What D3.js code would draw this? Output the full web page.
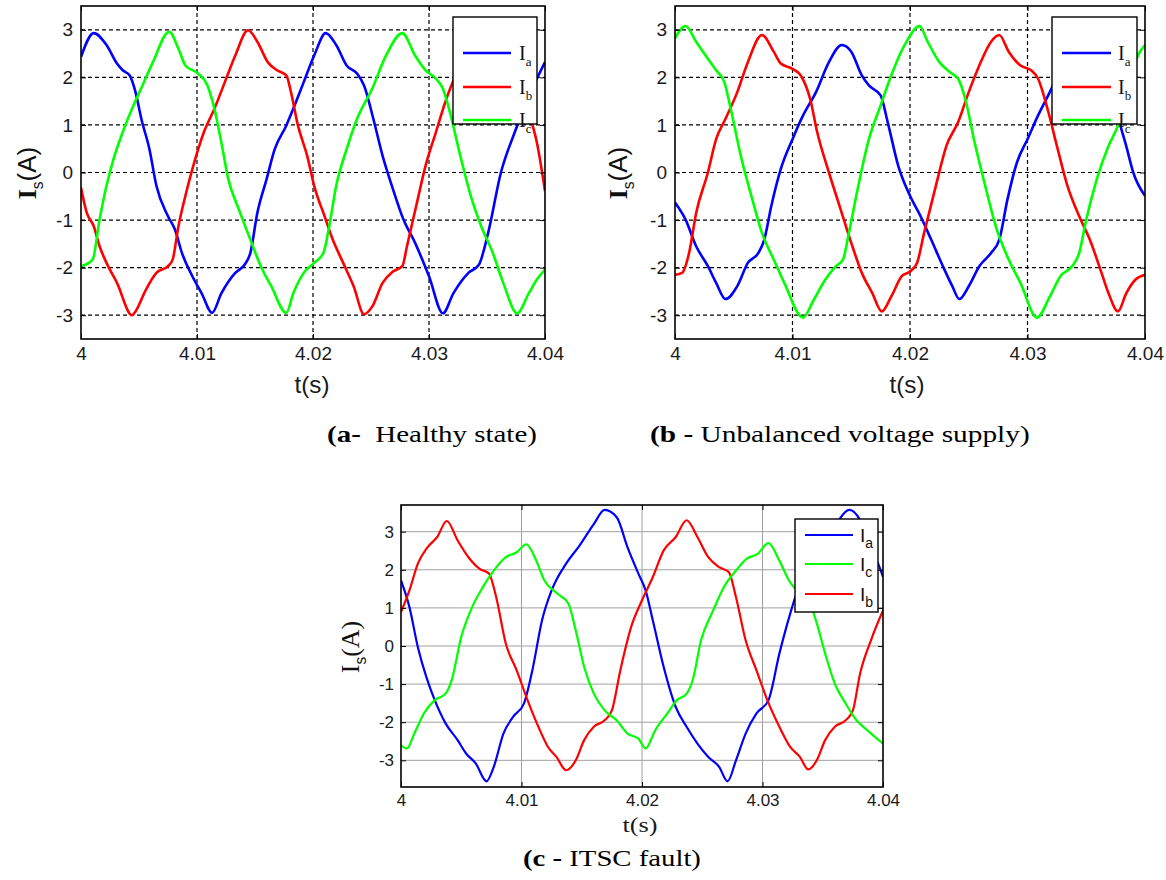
<!DOCTYPE html>
<html>
<head>
<meta charset="utf-8">
<script src="https://cdn.jsdelivr.net/npm/d3@7"></script>
<style>
  body { margin: 0; background: #fff; }
</style>
</head>
<body>
<div id="figure"></div>
<script>
// tick labels shared by the three plots
const xTicks = [4, 4.01, 4.02, 4.03, 4.04];
const yTicks = [-3, -2, -1, 0, 1, 2, 3];

// (a) healthy state, [t, I]
const healthyIa = [[4.0000,2.43],[4.0011,2.93],[4.0022,2.68],[4.0031,2.29],[4.0036,2.15],[4.0042,2.04],[4.0047,1.69],[4.0052,1.13],[4.0059,0.49],[4.0065,-0.28],[4.0075,-0.92],[4.0081,-1.2],[4.0087,-1.69],[4.0096,-2.18],[4.0104,-2.54],[4.0113,-2.95],[4.0121,-2.54],[4.0133,-2.11],[4.0141,-1.94],[4.0146,-1.69],[4.0152,-0.85],[4.0160,-0.14],[4.0167,0.49],[4.0177,0.99],[4.0183,1.34],[4.0192,1.9],[4.0201,2.46],[4.0211,2.93],[4.0220,2.68],[4.0229,2.25],[4.0238,2.08],[4.0244,1.83],[4.0252,1.13],[4.0260,0.35],[4.0268,-0.28],[4.0278,-0.99],[4.0288,-1.48],[4.0300,-2.18],[4.0312,-2.96],[4.0321,-2.54],[4.0334,-2.11],[4.0343,-1.94],[4.0351,-1.27],[4.0362,0.0],[4.0374,0.85],[4.0386,1.6],[4.0393,1.97],[4.0400,2.32]];
const healthyIb = [[4.0000,-0.32],[4.0005,-0.85],[4.0011,-1.13],[4.0016,-1.55],[4.0022,-1.9],[4.0031,-2.32],[4.0044,-3.0],[4.0047,-2.92],[4.0056,-2.46],[4.0065,-2.11],[4.0075,-1.97],[4.0079,-1.83],[4.0084,-1.13],[4.0090,-0.49],[4.0096,0.07],[4.0106,0.85],[4.0115,1.34],[4.0124,1.9],[4.0133,2.46],[4.0144,2.99],[4.0152,2.75],[4.0161,2.32],[4.0169,2.15],[4.0177,2.04],[4.0181,1.69],[4.0187,0.99],[4.0195,0.35],[4.0201,-0.28],[4.0210,-0.92],[4.0217,-1.41],[4.0226,-1.9],[4.0235,-2.39],[4.0244,-2.98],[4.0251,-2.82],[4.0260,-2.32],[4.0269,-2.08],[4.0277,-1.97],[4.0281,-1.55],[4.0289,-0.7],[4.0297,0.14],[4.0306,0.85],[4.0315,1.55],[4.0324,2.1],[4.0334,2.6],[4.0344,2.98],[4.0352,2.75],[4.0361,2.32],[4.0369,2.15],[4.0377,2.04],[4.0382,1.69],[4.0387,1.2],[4.0393,0.63],[4.0400,-0.39]];
const healthyIc = [[4.0000,-1.97],[4.0010,-1.83],[4.0016,-0.99],[4.0022,-0.28],[4.0028,0.28],[4.0036,0.85],[4.0044,1.34],[4.0053,1.83],[4.0062,2.32],[4.0076,2.96],[4.0084,2.6],[4.0090,2.25],[4.0101,2.08],[4.0109,1.83],[4.0115,1.34],[4.0121,0.63],[4.0127,-0.14],[4.0136,-0.77],[4.0146,-1.41],[4.0155,-1.97],[4.0164,-2.39],[4.0177,-2.95],[4.0183,-2.54],[4.0192,-2.11],[4.0201,-1.9],[4.0209,-1.69],[4.0214,-1.13],[4.0220,-0.28],[4.0229,0.49],[4.0238,1.13],[4.0251,1.76],[4.0263,2.46],[4.0277,2.93],[4.0288,2.46],[4.0297,2.15],[4.0306,1.97],[4.0312,1.76],[4.0318,1.27],[4.0327,0.35],[4.0336,-0.49],[4.0345,-1.13],[4.0355,-1.69],[4.0364,-2.32],[4.0376,-2.96],[4.0386,-2.54],[4.0393,-2.25],[4.0400,-2.04]];

// (b) unbalanced voltage supply
const unbalIa = [[4.0000,-0.63],[4.0009,-0.99],[4.0018,-1.55],[4.0028,-1.97],[4.0035,-2.32],[4.0043,-2.66],[4.0053,-2.39],[4.0062,-1.9],[4.0071,-1.69],[4.0076,-1.41],[4.0082,-0.7],[4.0090,0.07],[4.0100,0.7],[4.0109,1.2],[4.0120,1.69],[4.0131,2.32],[4.0142,2.68],[4.0150,2.54],[4.0159,2.04],[4.0165,1.83],[4.0175,1.62],[4.0181,1.06],[4.0190,0.14],[4.0200,-0.49],[4.0209,-0.92],[4.0218,-1.41],[4.0228,-1.97],[4.0236,-2.39],[4.0242,-2.66],[4.0250,-2.39],[4.0259,-1.97],[4.0269,-1.69],[4.0276,-1.41],[4.0283,-0.56],[4.0291,0.21],[4.0300,0.7],[4.0309,1.2],[4.0319,1.69],[4.0331,2.3],[4.0342,2.68],[4.0350,2.54],[4.0359,2.04],[4.0366,1.83],[4.0374,1.6],[4.0378,1.1],[4.0384,0.56],[4.0390,0.0],[4.0400,-0.49]];
const unbalIb = [[4.0000,-2.15],[4.0006,-2.11],[4.0012,-1.69],[4.0018,-0.85],[4.0028,0.0],[4.0035,0.7],[4.0043,1.13],[4.0053,1.69],[4.0062,2.32],[4.0074,2.89],[4.0084,2.54],[4.0090,2.29],[4.0100,2.18],[4.0107,2.04],[4.0115,1.55],[4.0121,0.85],[4.0131,0.0],[4.0140,-0.7],[4.0150,-1.48],[4.0159,-2.11],[4.0168,-2.54],[4.0176,-2.92],[4.0184,-2.61],[4.0193,-2.18],[4.0200,-2.08],[4.0206,-1.9],[4.0212,-1.27],[4.0222,-0.28],[4.0231,0.56],[4.0241,1.06],[4.0250,1.69],[4.0259,2.25],[4.0269,2.75],[4.0276,2.89],[4.0284,2.54],[4.0294,2.25],[4.0303,2.15],[4.0309,1.97],[4.0317,1.34],[4.0325,0.56],[4.0334,-0.28],[4.0344,-0.92],[4.0353,-1.41],[4.0363,-2.11],[4.0369,-2.54],[4.0377,-2.92],[4.0384,-2.54],[4.0392,-2.25],[4.0400,-2.15]];
const unbalIc = [[4.0000,2.82],[4.0009,3.08],[4.0018,2.75],[4.0028,2.39],[4.0035,2.15],[4.0042,1.9],[4.0048,1.27],[4.0056,0.35],[4.0065,-0.49],[4.0074,-1.27],[4.0084,-1.83],[4.0093,-2.32],[4.0109,-3.05],[4.0118,-2.68],[4.0128,-2.25],[4.0137,-1.97],[4.0143,-1.83],[4.0148,-1.27],[4.0156,-0.28],[4.0165,0.7],[4.0175,1.41],[4.0184,2.04],[4.0197,2.75],[4.0208,3.08],[4.0215,2.75],[4.0225,2.32],[4.0234,2.11],[4.0241,1.97],[4.0247,1.55],[4.0255,0.63],[4.0264,-0.28],[4.0273,-1.13],[4.0284,-1.83],[4.0294,-2.32],[4.0308,-3.05],[4.0319,-2.61],[4.0328,-2.18],[4.0338,-1.97],[4.0344,-1.69],[4.0350,-0.99],[4.0359,-0.14],[4.0369,0.56],[4.0377,0.99],[4.0385,1.7],[4.0394,2.46],[4.0400,2.68]];

// (c) ITSC fault
const itscIa = [[4.0000,1.72],[4.0007,1.02],[4.0014,-0.03],[4.0021,-0.81],[4.0028,-1.42],[4.0037,-2.03],[4.0047,-2.47],[4.0054,-2.82],[4.0062,-3.08],[4.0071,-3.55],[4.0077,-3.17],[4.0085,-2.3],[4.0093,-1.86],[4.0102,-1.51],[4.0109,-0.64],[4.0117,0.67],[4.0125,1.46],[4.0137,2.16],[4.0148,2.63],[4.0160,3.2],[4.0169,3.57],[4.0179,3.38],[4.0188,2.59],[4.0197,1.9],[4.0203,1.46],[4.0209,0.67],[4.0218,-0.55],[4.0228,-1.6],[4.0237,-2.12],[4.0246,-2.56],[4.0255,-2.91],[4.0264,-3.17],[4.0271,-3.55],[4.0278,-3.0],[4.0286,-2.3],[4.0295,-1.77],[4.0305,-1.42],[4.0314,-0.2],[4.0323,0.85],[4.0332,1.72],[4.0342,2.3],[4.0352,2.75],[4.0362,3.25],[4.0372,3.57],[4.0381,3.3],[4.0389,2.6],[4.0396,2.16],[4.0400,1.81]];
const itscIb = [[4.0000,0.89],[4.0007,1.46],[4.0014,2.16],[4.0022,2.59],[4.0030,2.86],[4.0038,3.28],[4.0047,2.77],[4.0056,2.33],[4.0065,2.03],[4.0073,1.9],[4.0079,1.28],[4.0087,0.06],[4.0096,-0.64],[4.0105,-1.42],[4.0114,-2.12],[4.0122,-2.65],[4.0129,-2.91],[4.0137,-3.26],[4.0145,-3.0],[4.0152,-2.47],[4.0160,-2.12],[4.0169,-1.95],[4.0175,-1.69],[4.0182,-0.64],[4.0191,0.5],[4.0200,1.2],[4.0209,1.81],[4.0218,2.51],[4.0228,2.86],[4.0237,3.3],[4.0246,2.86],[4.0255,2.33],[4.0264,2.07],[4.0272,1.94],[4.0278,1.28],[4.0286,0.15],[4.0295,-0.64],[4.0304,-1.42],[4.0314,-2.12],[4.0323,-2.65],[4.0331,-2.91],[4.0338,-3.24],[4.0345,-3.0],[4.0352,-2.47],[4.0360,-2.12],[4.0369,-1.95],[4.0375,-1.69],[4.0381,-0.72],[4.0390,0.15],[4.0400,0.93]];
const itscIc = [[4.0000,-2.6],[4.0005,-2.69],[4.0011,-2.3],[4.0019,-1.77],[4.0028,-1.42],[4.0037,-1.25],[4.0042,-0.9],[4.0050,0.24],[4.0059,1.02],[4.0068,1.55],[4.0077,1.98],[4.0087,2.33],[4.0096,2.46],[4.0104,2.67],[4.0111,2.33],[4.0119,1.72],[4.0130,1.37],[4.0139,1.11],[4.0145,0.41],[4.0152,-0.55],[4.0160,-1.25],[4.0169,-1.69],[4.0179,-1.95],[4.0188,-2.3],[4.0197,-2.43],[4.0203,-2.69],[4.0211,-2.21],[4.0221,-1.77],[4.0229,-1.42],[4.0237,-1.25],[4.0242,-0.9],[4.0249,0.15],[4.0259,0.93],[4.0268,1.55],[4.0278,1.98],[4.0287,2.29],[4.0296,2.42],[4.0305,2.7],[4.0314,2.24],[4.0322,1.72],[4.0331,1.37],[4.0339,1.15],[4.0345,0.6],[4.0352,-0.2],[4.0360,-0.99],[4.0369,-1.51],[4.0378,-1.95],[4.0387,-2.21],[4.0393,-2.38],[4.0400,-2.56]];

// legend order (phase subscripts)
const legendAB = ['a', 'b', 'c'];
const legendC = ['a', 'c', 'b'];

// captions
const captionA = ['(a-', '  Healthy state)'];
const captionB = ['(b -', ' Unbalanced voltage supply)'];
const captionC = ['(c -', ' ITSC fault)'];

const colors = { a: '#0000ff', b: '#ff0000', c: '#00ff00' };
const serif = '"Liberation Serif", "Times New Roman", serif';
const sans = '"Liberation Sans", Arial, sans-serif';

const width = 1166;
const height = 880;

const svg = d3.select('#figure')
  .append('svg')
  .attr('width', width)
  .attr('height', height)
  .style('background', '#fff');

// matlab-like styles: a and b have dashed black grids, c has a light solid grid
const panels = [
  {
    key: 'a',
    data: { a: healthyIa, b: healthyIb, c: healthyIc },
    order: legendAB,
    box: { left: 81, right: 545, top: 6, bottom: 339 },
    yDomain: [-3.5, 3.5],
    grid: { color: '#000', dash: '4,3', width: 1.2 },
    lineWidth: 2.6,
    tickFont: sans, tickSize: 19, xPad: 8, yPad: 8,
    xLabel: { x: 312, y: 393, font: sans, size: 24, len: 35 },
    yLabel: { x: 27, y: 173, iFont: serif, iWeight: 'bold', rest: sans, size: 26 },
    legend: { x: 453, y: 17, w: 84, h: 107, rows: [36, 70, 103], line: [10, 58], text: 66, font: serif, size: 20, sub: 13 },
    caption: { text: captionA, x: 327, y: 442, w: 210 }
  },
  {
    key: 'b',
    data: { a: unbalIa, b: unbalIb, c: unbalIc },
    order: legendAB,
    box: { left: 675, right: 1145, top: 6, bottom: 339 },
    yDomain: [-3.5, 3.5],
    grid: { color: '#000', dash: '4,3', width: 1.2 },
    lineWidth: 2.6,
    tickFont: sans, tickSize: 19, xPad: 8, yPad: 8,
    xLabel: { x: 907, y: 393, font: sans, size: 24, len: 35 },
    yLabel: { x: 618, y: 173, iFont: serif, iWeight: 'bold', rest: sans, size: 26 },
    legend: { x: 1052, y: 17, w: 85, h: 107, rows: [36, 70, 103], line: [10, 59], text: 66, font: serif, size: 20, sub: 13 },
    caption: { text: captionB, x: 650, y: 442, w: 380 }
  },
  {
    key: 'c',
    data: { a: itscIa, b: itscIb, c: itscIc },
    order: legendC,
    box: { left: 401, right: 883, top: 505, bottom: 787 },
    yDomain: [-3.7, 3.7],
    grid: { color: '#a0a0a0', dash: null, width: 1 },
    lineWidth: 2.2,
    tickFont: sans, tickSize: 17, xPad: 7, yPad: 7,
    xLabel: { x: 640, y: 832, font: serif, size: 21, len: 35 },
    yLabel: { x: 350, y: 647, iFont: serif, iWeight: 'normal', rest: serif, size: 26 },
    legend: { x: 795, y: 519, w: 83, h: 93, rows: [16, 45, 75], line: [10, 58], text: 65, font: sans, size: 19, sub: 14 },
    caption: { text: captionC, x: 523, y: 866, w: 178 }
  }
];

panels.forEach(p => drawPanel(p));

function drawPanel(p) {
  const x = d3.scaleLinear()
    .domain([xTicks[0], xTicks[xTicks.length - 1]])
    .range([p.box.left, p.box.right]);
  const y = d3.scaleLinear()
    .domain(p.yDomain)
    .range([p.box.bottom, p.box.top]);

  const g = svg.append('g').attr('class', 'panel-' + p.key);

  g.append('clipPath')
    .attr('id', 'clip-' + p.key)
    .append('rect')
    .attr('x', p.box.left)
    .attr('y', p.box.top)
    .attr('width', p.box.right - p.box.left)
    .attr('height', p.box.bottom - p.box.top);

  // grid
  const grid = g.append('g').attr('class', 'grid');
  grid.selectAll('.gx')
    .data(xTicks.slice(1, -1))
    .join('line')
    .attr('class', 'gx')
    .attr('x1', d => x(d)).attr('x2', d => x(d))
    .attr('y1', p.box.top).attr('y2', p.box.bottom);
  grid.selectAll('.gy')
    .data(yTicks)
    .join('line')
    .attr('class', 'gy')
    .attr('x1', p.box.left).attr('x2', p.box.right)
    .attr('y1', d => y(d)).attr('y2', d => y(d));
  grid.selectAll('line')
    .attr('stroke', p.grid.color)
    .attr('stroke-width', p.grid.width)
    .attr('stroke-dasharray', p.grid.dash);

  // current traces
  const line = d3.line()
    .x(d => x(d[0]))
    .y(d => y(d[1]))
    .curve(d3.curveMonotoneX);

  const traces = g.append('g').attr('clip-path', `url(#clip-${p.key})`);
  ['a', 'b', 'c'].forEach(k => {
    traces.append('path')
      .attr('fill', 'none')
      .attr('stroke', colors[k])
      .attr('stroke-width', p.lineWidth)
      .attr('stroke-linejoin', 'round')
      .attr('d', line(p.data[k]));
  });

  // axes, matlab style inward ticks
  const fmt = d => String(d);
  const axB = g.append('g')
    .attr('transform', `translate(0, ${p.box.bottom})`)
    .call(d3.axisBottom(x).tickValues(xTicks).tickFormat(fmt).tickSize(-5).tickPadding(p.xPad));
  const axL = g.append('g')
    .attr('transform', `translate(${p.box.left}, 0)`)
    .call(d3.axisLeft(y).tickValues(yTicks).tickFormat(fmt).tickSize(-5).tickPadding(p.yPad));
  g.append('g')
    .attr('transform', `translate(0, ${p.box.top})`)
    .call(d3.axisTop(x).tickValues(xTicks).tickFormat('').tickSize(-5));
  g.append('g')
    .attr('transform', `translate(${p.box.right}, 0)`)
    .call(d3.axisRight(y).tickValues(yTicks).tickFormat('').tickSize(-5));

  g.selectAll('.domain').remove();
  g.selectAll('.tick line').attr('stroke', '#000');
  [axB, axL].forEach(ax => {
    ax.selectAll('text')
      .attr('fill', '#1a1a1a')
      .style('font-family', p.tickFont)
      .style('font-size', p.tickSize + 'px');
  });

  g.append('rect')
    .attr('x', p.box.left)
    .attr('y', p.box.top)
    .attr('width', p.box.right - p.box.left)
    .attr('height', p.box.bottom - p.box.top)
    .attr('fill', 'none')
    .attr('stroke', '#000')
    .attr('stroke-width', 1.6);

  // legend
  const lg = g.append('g')
    .attr('transform', `translate(${p.legend.x}, ${p.legend.y})`);
  lg.append('rect')
    .attr('width', p.legend.w)
    .attr('height', p.legend.h)
    .attr('fill', '#fff')
    .attr('stroke', '#000')
    .attr('stroke-width', 1.4);
  const rows = lg.selectAll('.row')
    .data(p.order)
    .join('g')
    .attr('class', 'row')
    .attr('transform', (d, i) => `translate(0, ${p.legend.rows[i]})`);
  rows.append('line')
    .attr('x1', p.legend.line[0])
    .attr('x2', p.legend.line[1])
    .attr('stroke', d => colors[d])
    .attr('stroke-width', p.lineWidth);
  const lt = rows.append('text')
    .attr('x', p.legend.text)
    .attr('y', 7)
    .attr('fill', '#111')
    .style('font-family', p.legend.font)
    .style('font-size', p.legend.size + 'px');
  lt.append('tspan').text('I');
  lt.append('tspan')
    .attr('dy', 6)
    .style('font-size', p.legend.sub + 'px')
    .text(d => d);

  // axis titles
  g.append('text')
    .attr('x', p.xLabel.x)
    .attr('y', p.xLabel.y)
    .attr('text-anchor', 'middle')
    .attr('fill', '#1a1a1a')
    .attr('textLength', p.xLabel.len)
    .attr('lengthAdjust', 'spacingAndGlyphs')
    .style('font-family', p.xLabel.font)
    .style('font-size', p.xLabel.size + 'px')
    .text('t(s)');

  const yl = g.append('text')
    .attr('transform', `translate(${p.yLabel.x}, ${p.yLabel.y}) rotate(-90)`)
    .attr('text-anchor', 'middle')
    .attr('dy', '0.35em')
    .attr('fill', '#111')
    .style('font-size', p.yLabel.size + 'px');
  yl.append('tspan')
    .style('font-family', p.yLabel.iFont)
    .style('font-weight', p.yLabel.iWeight)
    .text('I');
  yl.append('tspan')
    .attr('dy', 7)
    .style('font-family', sans)
    .style('font-size', (p.yLabel.size * 0.6) + 'px')
    .text('s');
  yl.append('tspan')
    .attr('dy', -7)
    .style('font-family', p.yLabel.rest)
    .text('(A)');

  // caption under the plot, stretched sideways like the source image
  const cap = svg.append('text')
    .attr('x', 0)
    .attr('y', 0)
    .attr('fill', '#000')
    .style('font-family', serif)
    .style('font-size', '24px')
    .style('white-space', 'pre');
  cap.append('tspan')
    .style('font-weight', 'bold')
    .text(p.caption.text[0]);
  cap.append('tspan')
    .text(p.caption.text[1]);
  const natural = cap.node().getComputedTextLength();
  const sx = natural > 0 ? p.caption.w / natural : 1.2;
  cap.attr('transform', `translate(${p.caption.x}, ${p.caption.y}) scale(${sx}, 1)`);
}
</script>
</body>
</html>
